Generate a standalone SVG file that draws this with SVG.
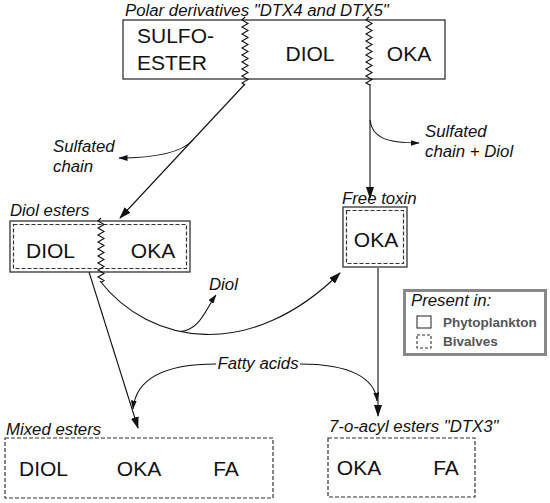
<svg xmlns="http://www.w3.org/2000/svg" width="550" height="503" viewBox="0 0 550 503">
<defs>
<marker id="ah" markerWidth="12" markerHeight="8" refX="11" refY="4" orient="auto" markerUnits="userSpaceOnUse">
<path d="M0,0 L12,4 L0,8 Z" fill="#111"/>
</marker>
<marker id="ahs" markerWidth="9" markerHeight="6" refX="8.5" refY="3" orient="auto" markerUnits="userSpaceOnUse">
<path d="M0,0 L9,3 L0,6 Z" fill="#111"/>
</marker>
<style>
.t{font-family:"Liberation Sans",Arial,sans-serif;fill:#111}
.big{font-size:21px}
.it{font-size:16.8px;font-style:italic}
.box{fill:#fff;stroke:#333;stroke-width:1.3}
.dbox{fill:none;stroke:#333;stroke-width:1.2;stroke-dasharray:4,2}
.ln{fill:none;stroke:#111;stroke-width:1.1}
.zz{fill:none;stroke:#111;stroke-width:1.1}
.leg{font-family:"Liberation Sans",Arial,sans-serif;font-size:13.5px;font-weight:bold;fill:#555}
</style>
</defs>
<rect width="550" height="503" fill="#fff"/>

<g id="connectors">
<path class="ln" d="M245,84 L120,218" marker-end="url(#ah)"/>
<path class="ln" d="M193,140 C180,154 152,158 119,158" marker-end="url(#ahs)"/>
<path class="ln" d="M370,84 L370,198" marker-end="url(#ah)"/>
<path class="ln" d="M370,120 C372,137 385,143 419,143" marker-end="url(#ahs)"/>
<path class="ln" d="M100,281 C150,345 250,362 340,273" marker-end="url(#ah)"/>
<path class="ln" d="M180,331.5 C200,330 205,310 216,295" marker-end="url(#ahs)"/>
<path class="ln" d="M89,272 L138,428" marker-end="url(#ah)"/>
<path class="ln" d="M378,268 L378,416" marker-end="url(#ah)"/>
<path class="ln" d="M216,364 C165,364 136,378 133,409" marker-end="url(#ahs)"/>
<path class="ln" d="M300,364 C350,364 375,378 377,401" marker-end="url(#ahs)"/>
</g>

<g id="polar">
<text class="t it" x="125" y="16">Polar derivatives "DTX4 and DTX5"</text>
<rect class="box" x="123" y="20" width="322" height="59"/>
<text class="t big" x="137" y="43">SULFO-</text>
<text class="t big" x="137" y="70">ESTER</text>
<text class="t big" x="310" y="61" text-anchor="middle">DIOL</text>
<text class="t big" x="409" y="61" text-anchor="middle">OKA</text>
<path class="zz" d="M245,17 l-3,3 l6,3.5 l-6,3.5 l6,3.5 l-6,3.5 l6,3.5 l-6,3.5 l6,3.5 l-6,3.5 l6,3.5 l-6,3.5 l6,3.5 l-6,3.5 l6,3.5 l-6,3.5 l6,3.5 l-6,3.5 l6,3.5 l-6,3.5 l3,2"/>
<path class="zz" d="M369,17 l-3,3 l6,3.5 l-6,3.5 l6,3.5 l-6,3.5 l6,3.5 l-6,3.5 l6,3.5 l-6,3.5 l6,3.5 l-6,3.5 l6,3.5 l-6,3.5 l6,3.5 l-6,3.5 l6,3.5 l-6,3.5 l6,3.5 l-6,3.5 l4,2"/>
</g>

<g id="sulfated-chain">
<text class="t it" x="53" y="152">Sulfated</text>
<text class="t it" x="53" y="172">chain</text>
</g>

<g id="sulfated-chain-diol">
<text class="t it" x="425" y="137">Sulfated</text>
<text class="t it" x="425" y="157">chain + Diol</text>
</g>

<g id="diol-esters">
<text class="t it" x="10" y="216">Diol esters</text>
<rect class="box" x="10" y="221" width="180" height="51"/>
<rect class="dbox" x="13.5" y="224.5" width="173" height="44"/>
<text class="t big" x="26" y="258">DIOL</text>
<text class="t big" x="153" y="258" text-anchor="middle">OKA</text>
<path class="zz" d="M101,218 l-3,3 l6,3.5 l-6,3.5 l6,3.5 l-6,3.5 l6,3.5 l-6,3.5 l6,3.5 l-6,3.5 l6,3.5 l-6,3.5 l6,3.5 l-6,3.5 l6,3.5 l-6,3.5 l6,3.5 l-6,3.5 l6,3.5 l-3,2"/>
</g>

<g id="free-toxin">
<text class="t it" x="342" y="204">Free toxin</text>
<rect class="box" x="343" y="207" width="64" height="60"/>
<rect class="dbox" x="346.5" y="210.5" width="57" height="53"/>
<text class="t big" x="376" y="247" text-anchor="middle">OKA</text>
</g>

<g id="diol-label">
<text class="t it" x="209" y="290">Diol</text>
</g>

<g id="fatty-acids">
<text class="t it" x="258" y="369" text-anchor="middle">Fatty acids</text>
</g>

<g id="legend">
<rect x="404.5" y="290.5" width="141" height="64" fill="#fff" stroke="#888" stroke-width="3"/>
<text class="t it" x="411" y="306">Present in:</text>
<rect x="417" y="316" width="14" height="12" fill="none" stroke="#333" stroke-width="1.1"/>
<text class="leg" x="443" y="327">Phytoplankton</text>
<rect x="417" y="335" width="14" height="13" fill="none" stroke="#333" stroke-width="1.1" stroke-dasharray="3,2"/>
<text class="leg" x="443" y="346">Bivalves</text>
</g>

<g id="mixed-esters">
<text class="t it" x="6" y="435">Mixed esters</text>
<rect class="dbox" x="5" y="438" width="268" height="60"/>
<text class="t big" x="19" y="476">DIOL</text>
<text class="t big" x="139" y="476" text-anchor="middle">OKA</text>
<text class="t big" x="226" y="476" text-anchor="middle">FA</text>
</g>

<g id="acyl-esters">
<text class="t it" x="329" y="432">7-o-acyl esters "DTX3"</text>
<rect class="dbox" x="328" y="438" width="147" height="59"/>
<text class="t big" x="359" y="475" text-anchor="middle">OKA</text>
<text class="t big" x="446" y="475" text-anchor="middle">FA</text>
</g>
</svg>
